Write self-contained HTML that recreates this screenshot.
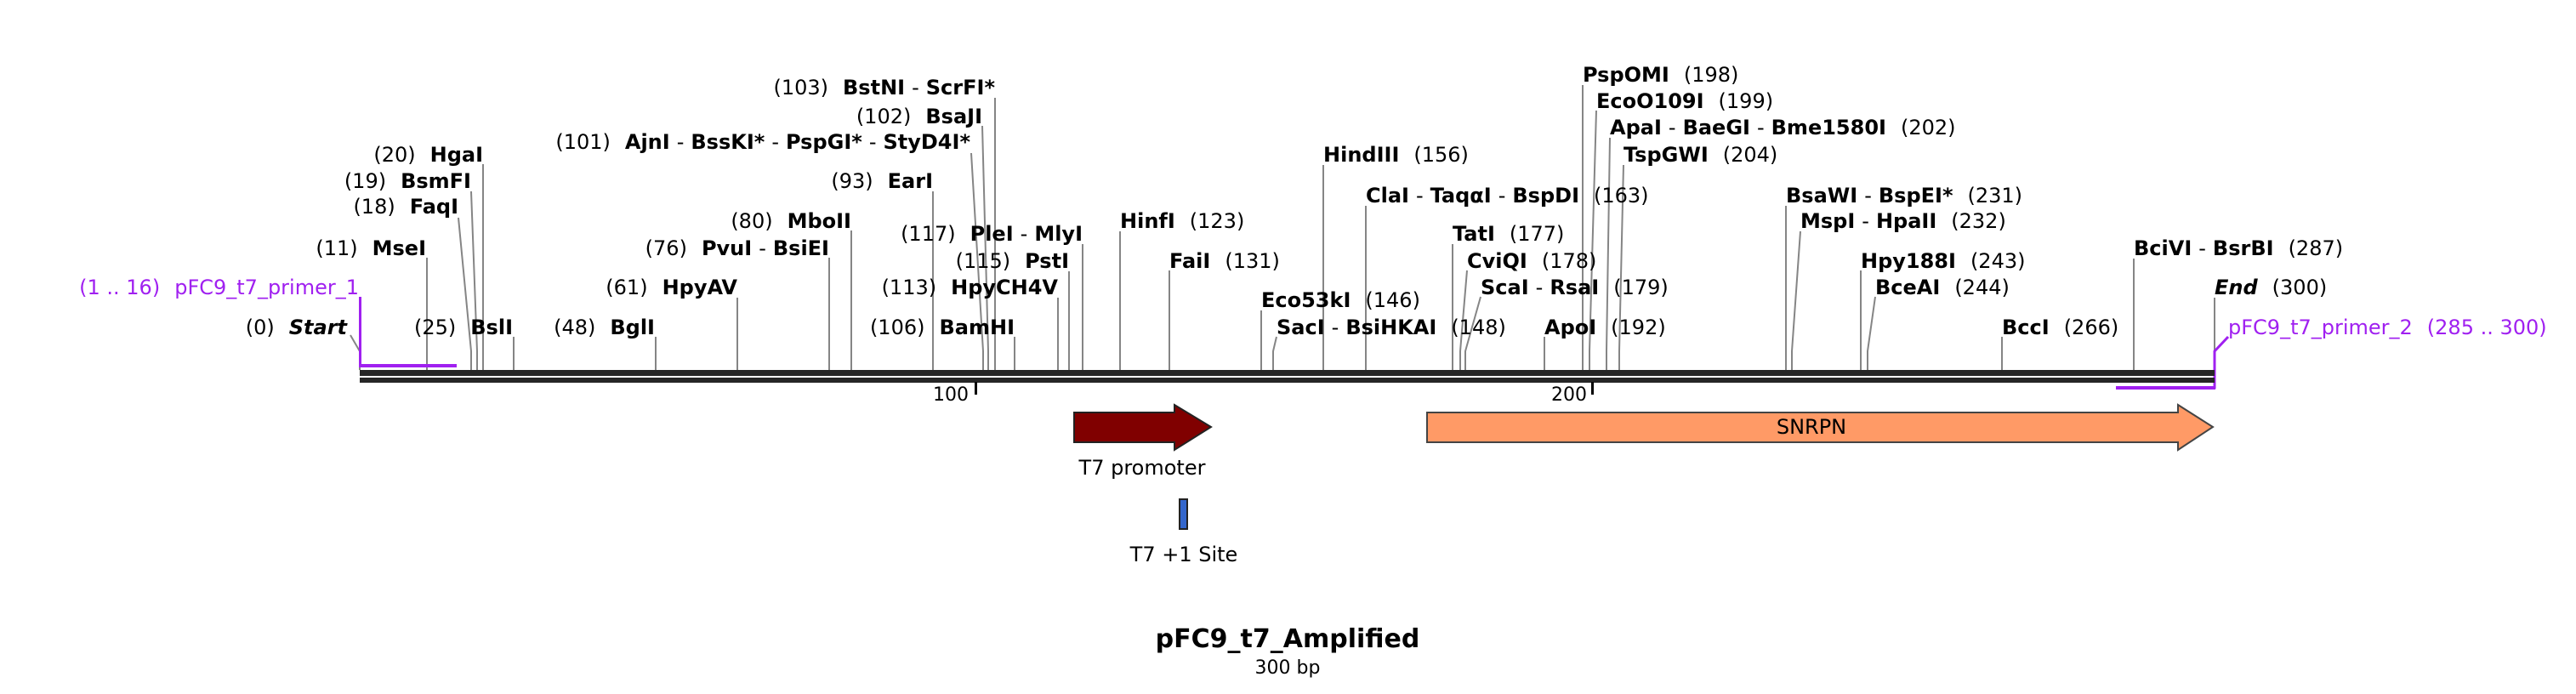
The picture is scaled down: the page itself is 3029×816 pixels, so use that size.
<!DOCTYPE html>
<html><head><meta charset="utf-8"><style>
html,body{margin:0;padding:0;background:#fff;}
svg{display:block;}
text{font-family:"DejaVu Sans","Liberation Sans",sans-serif;font-size:24px;fill:#000;}
.b{font-weight:bold;}
.l{stroke:#858585;stroke-width:2;fill:none;}
.p{fill:#a020f0;}
</style></head><body>
<svg width="3029" height="816" viewBox="0 0 3029 816" xmlns="http://www.w3.org/2000/svg">
<g class="l">
<polyline points="412,394 423,413 423,435"/>
<line x1="502" y1="303" x2="502" y2="435"/>
<polyline points="539,256 554,413 554,435"/>
<polyline points="554,225 561,413 561,435"/>
<line x1="568" y1="193" x2="568" y2="435"/>
<line x1="604" y1="396" x2="604" y2="435"/>
<line x1="771" y1="396" x2="771" y2="435"/>
<line x1="867" y1="350" x2="867" y2="435"/>
<line x1="975" y1="303" x2="975" y2="435"/>
<line x1="1001" y1="271" x2="1001" y2="435"/>
<polyline points="1142,180 1156,413 1156,435"/>
<polyline points="1155,148 1162,413 1162,435"/>
<line x1="1170" y1="115" x2="1170" y2="435"/>
<line x1="1097" y1="225" x2="1097" y2="435"/>
<line x1="1273" y1="287" x2="1273" y2="435"/>
<line x1="1257" y1="319" x2="1257" y2="435"/>
<line x1="1244" y1="350" x2="1244" y2="435"/>
<line x1="1193" y1="396" x2="1193" y2="435"/>
<line x1="1317" y1="272" x2="1317" y2="435"/>
<line x1="1375" y1="318" x2="1375" y2="435"/>
<line x1="1483" y1="365" x2="1483" y2="435"/>
<polyline points="1501,396 1497,413 1497,435"/>
<line x1="1556" y1="194" x2="1556" y2="435"/>
<line x1="1606" y1="242" x2="1606" y2="435"/>
<line x1="1708" y1="287" x2="1708" y2="435"/>
<polyline points="1725,318 1717,413 1717,435"/>
<polyline points="1741,349 1723,413 1723,435"/>
<line x1="1816" y1="396" x2="1816" y2="435"/>
<line x1="1861" y1="100" x2="1861" y2="435"/>
<polyline points="1877,130 1869,413 1869,435"/>
<polyline points="1893,162 1889,413 1889,435"/>
<polyline points="1909,194 1904,413 1904,435"/>
<line x1="2100" y1="242" x2="2100" y2="435"/>
<polyline points="2117,272 2107,413 2107,435"/>
<line x1="2188" y1="318" x2="2188" y2="435"/>
<polyline points="2205,349 2196,413 2196,435"/>
<line x1="2354" y1="396" x2="2354" y2="435"/>
<line x1="2509" y1="304" x2="2509" y2="435"/>
<line x1="2604" y1="350" x2="2604" y2="435"/>
</g>
<rect class="p" x="422" y="349" width="3" height="83"/>
<rect class="p" x="422" y="428" width="115" height="4"/>
<polyline points="2620,396 2604,413 2604,457" stroke="#a020f0" stroke-width="3" fill="none"/>
<rect class="p" x="2488" y="454" width="117" height="4"/>
<rect x="423" y="435" width="2181" height="7" fill="#262626"/>
<rect x="423" y="444" width="2181" height="6" fill="#262626"/>
<rect x="1146" y="449" width="3" height="15" fill="#000"/>
<rect x="1871" y="449" width="3" height="15" fill="#000"/>
<text x="1139" y="471" text-anchor="end" style="font-size:22px">100</text>
<text x="1866" y="471" text-anchor="end" style="font-size:22px">200</text>
<g text-anchor="end">
<text x="408" y="393"><tspan>(0)</tspan><tspan class="b" dx="17" font-style="italic">Start</tspan></text>
<text x="422" y="346" class="p" style="fill:#a020f0">(1 .. 16)<tspan dx="17">pFC9_t7_primer_1</tspan></text>
<text x="501" y="300">(11)<tspan class="b" dx="17">MseI</tspan></text>
<text x="539" y="251">(18)<tspan class="b" dx="17">FaqI</tspan></text>
<text x="554" y="221">(19)<tspan class="b" dx="17">BsmFI</tspan></text>
<text x="568" y="190">(20)<tspan class="b" dx="17">HgaI</tspan></text>
<text x="603" y="393">(25)<tspan class="b" dx="17">BslI</tspan></text>
<text x="770" y="393">(48)<tspan class="b" dx="17">BglI</tspan></text>
<text x="867" y="346">(61)<tspan class="b" dx="17">HpyAV</tspan></text>
<text x="975" y="300">(76)<tspan class="b" dx="17">PvuI</tspan><tspan dx="8">-</tspan><tspan class="b" dx="8">BsiEI</tspan></text>
<text x="1001" y="268">(80)<tspan class="b" dx="17">MboII</tspan></text>
<text x="1141" y="175">(101)<tspan class="b" dx="17">AjnI</tspan><tspan dx="8">-</tspan><tspan class="b" dx="8">BssKI*</tspan><tspan dx="8">-</tspan><tspan class="b" dx="8">PspGI*</tspan><tspan dx="8">-</tspan><tspan class="b" dx="8">StyD4I*</tspan></text>
<text x="1155" y="145">(102)<tspan class="b" dx="17">BsaJI</tspan></text>
<text x="1170" y="111">(103)<tspan class="b" dx="17">BstNI</tspan><tspan dx="8">-</tspan><tspan class="b" dx="8">ScrFI*</tspan></text>
<text x="1097" y="221">(93)<tspan class="b" dx="17">EarI</tspan></text>
<text x="1273" y="283">(117)<tspan class="b" dx="17">PleI</tspan><tspan dx="8">-</tspan><tspan class="b" dx="8">MlyI</tspan></text>
<text x="1257" y="315">(115)<tspan class="b" dx="17">PstI</tspan></text>
<text x="1244" y="346">(113)<tspan class="b" dx="17">HpyCH4V</tspan></text>
<text x="1193" y="393">(106)<tspan class="b" dx="17">BamHI</tspan></text>
</g>
<g>
<text x="1317" y="268"><tspan class="b">HinfI</tspan><tspan dx="17">(123)</tspan></text>
<text x="1375" y="315"><tspan class="b">FaiI</tspan><tspan dx="17">(131)</tspan></text>
<text x="1483" y="361"><tspan class="b">Eco53kI</tspan><tspan dx="17">(146)</tspan></text>
<text x="1501" y="393"><tspan class="b">SacI</tspan><tspan dx="8">-</tspan><tspan class="b" dx="8">BsiHKAI</tspan><tspan dx="17">(148)</tspan></text>
<text x="1556" y="190"><tspan class="b">HindIII</tspan><tspan dx="17">(156)</tspan></text>
<text x="1606" y="238"><tspan class="b">ClaI</tspan><tspan dx="8">-</tspan><tspan class="b" dx="8">TaqαI</tspan><tspan dx="8">-</tspan><tspan class="b" dx="8">BspDI</tspan><tspan dx="17">(163)</tspan></text>
<text x="1708" y="283"><tspan class="b">TatI</tspan><tspan dx="17">(177)</tspan></text>
<text x="1725" y="315"><tspan class="b">CviQI</tspan><tspan dx="17">(178)</tspan></text>
<text x="1741" y="346"><tspan class="b">ScaI</tspan><tspan dx="8">-</tspan><tspan class="b" dx="8">RsaI</tspan><tspan dx="17">(179)</tspan></text>
<text x="1816" y="393"><tspan class="b">ApoI</tspan><tspan dx="17">(192)</tspan></text>
<text x="1861" y="96"><tspan class="b">PspOMI</tspan><tspan dx="17">(198)</tspan></text>
<text x="1877" y="127"><tspan class="b">EcoO109I</tspan><tspan dx="17">(199)</tspan></text>
<text x="1893" y="158"><tspan class="b">ApaI</tspan><tspan dx="8">-</tspan><tspan class="b" dx="8">BaeGI</tspan><tspan dx="8">-</tspan><tspan class="b" dx="8">Bme1580I</tspan><tspan dx="17">(202)</tspan></text>
<text x="1909" y="190"><tspan class="b">TspGWI</tspan><tspan dx="17">(204)</tspan></text>
<text x="2100" y="238"><tspan class="b">BsaWI</tspan><tspan dx="8">-</tspan><tspan class="b" dx="8">BspEI*</tspan><tspan dx="17">(231)</tspan></text>
<text x="2117" y="268"><tspan class="b">MspI</tspan><tspan dx="8">-</tspan><tspan class="b" dx="8">HpaII</tspan><tspan dx="17">(232)</tspan></text>
<text x="2188" y="315"><tspan class="b">Hpy188I</tspan><tspan dx="17">(243)</tspan></text>
<text x="2205" y="346"><tspan class="b">BceAI</tspan><tspan dx="17">(244)</tspan></text>
<text x="2354" y="393"><tspan class="b">BccI</tspan><tspan dx="17">(266)</tspan></text>
<text x="2509" y="300"><tspan class="b">BciVI</tspan><tspan dx="8">-</tspan><tspan class="b" dx="8">BsrBI</tspan><tspan dx="17">(287)</tspan></text>
<text x="2604" y="346"><tspan class="b" font-style="italic">End</tspan><tspan dx="17">(300)</tspan></text>
<text x="2620" y="393" style="fill:#a020f0">pFC9_t7_primer_2<tspan dx="17">(285 .. 300)</tspan></text>
</g>
<polygon points="1263,485 1381,485 1381,476 1424,502 1381,529 1381,520 1263,520" fill="#800000" stroke="#222" stroke-width="2"/>
<text x="1343" y="558" text-anchor="middle">T7 promoter</text>
<polygon points="1678,485 2561,485 2561,476 2602,502 2561,529 2561,520 1678,520" fill="#ff9a66" stroke="#444" stroke-width="2"/>
<text x="2130" y="510" text-anchor="middle">SNRPN</text>
<rect x="1387" y="587" width="9" height="35" fill="#3366cc" stroke="#222" stroke-width="2"/>
<text x="1392" y="660" text-anchor="middle">T7 +1 Site</text>
<text x="1514" y="761" text-anchor="middle" class="b" style="font-size:30px">pFC9_t7_Amplified</text>
<text x="1514" y="792" text-anchor="middle" style="font-size:22px">300 bp</text>
</svg>
</body></html>
